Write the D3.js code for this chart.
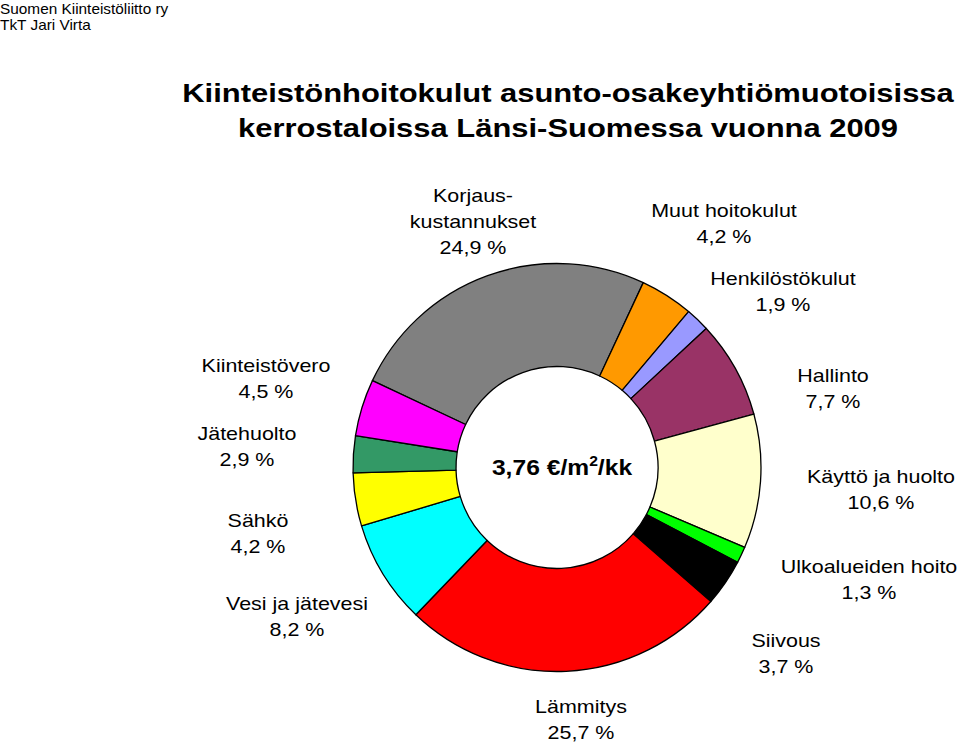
<!DOCTYPE html>
<html>
<head>
<meta charset="utf-8">
<script src="https://cdn.jsdelivr.net/npm/d3@7"></script>
<style>
  html, body { margin: 0; padding: 0; background: #fff; }
  svg { display: block; }
  text { font-family: "Liberation Sans", Arial, Helvetica, sans-serif; fill: #000; }
</style>
</head>
<body>
<svg id="chart" width="960" height="745"></svg>
<script>
// ---- data ----
const categories = ["Korjauskustannukset", "Muut hoitokulut", "Henkilöstökulut", "Hallinto",
  "Käyttö ja huolto", "Ulkoalueiden hoito", "Siivous", "Lämmitys",
  "Vesi ja jätevesi", "Sähkö", "Jätehuolto", "Kiinteistövero"];
const labelNames = [["Korjaus-", "kustannukset"], ["Muut hoitokulut"], ["Henkilöstökulut"], ["Hallinto"],
  ["Käyttö ja huolto"], ["Ulkoalueiden hoito"], ["Siivous"], ["Lämmitys"],
  ["Vesi ja jätevesi"], ["Sähkö"], ["Jätehuolto"], ["Kiinteistövero"]];
const values = [24.9, 4.2, 1.9, 7.7, 10.6, 1.3, 3.7, 25.7, 8.2, 4.2, 2.9, 4.5];
const colors = ["#808080", "#FF9900", "#9999FF", "#993366", "#FFFFCC", "#00FF00",
  "#000000", "#FF0000", "#00FFFF", "#FFFF00", "#339966", "#FF00FF"];
const titleLines = ["Kiinteistönhoitokulut asunto-osakeyhtiömuotoisissa", "kerrostaloissa Länsi-Suomessa vuonna 2009"];
const headerLines = ["Suomen Kiinteistöliitto ry", "TkT Jari Virta"];
const centerValue = "3,76";
const centerUnit = ["€/m", "2", "/kk"];

// ---- layout (not data) ----
const labelLayout = [
  {x: 473, y: 201.5}, {x: 724, y: 216.5}, {x: 783, y: 285}, {x: 833, y: 382},
  {x: 881, y: 483}, {x: 869, y: 572.5}, {x: 786, y: 646.5}, {x: 581, y: 712.5},
  {x: 297, y: 610}, {x: 258, y: 526.5}, {x: 247, y: 440}, {x: 266, y: 371.5}
];
const cx = 557, cy = 467.5, rOuter = 204, rInner = 101;
const startDeg = -64.8;
const lineH = 26;
const sx = 1.13;

const svg = d3.select("#chart");

// header
svg.selectAll("text.header").data(headerLines).join("text")
  .attr("class", "header")
  .attr("transform", (d, i) => `translate(0,${14 + i * 15.5}) scale(1.06,1)`)
  .attr("font-size", 14.5)
  .text(d => d);

// title
svg.selectAll("text.title").data(titleLines).join("text")
  .attr("class", "title")
  .attr("transform", (d, i) => `translate(568,${101.5 + i * 35}) scale(1.19,1)`)
  .attr("text-anchor", "middle")
  .attr("font-size", 26)
  .attr("font-weight", "bold")
  .text(d => d);

// donut
const pie = d3.pie().sort(null).value(d => d)
  .startAngle(startDeg * Math.PI / 180)
  .endAngle(startDeg * Math.PI / 180 + 2 * Math.PI);
const arc = d3.arc().innerRadius(rInner).outerRadius(rOuter);
const g = svg.append("g").attr("transform", `translate(${cx},${cy})`);
g.selectAll("path").data(pie(values)).join("path")
  .attr("d", arc)
  .attr("fill", (d, i) => colors[i])
  .attr("stroke", "#000")
  .attr("stroke-width", 1.3)
  .attr("stroke-linejoin", "round");

// center text
const ct = svg.append("text")
  .attr("transform", `translate(${cx + 5},475) scale(1.12,1)`)
  .attr("text-anchor", "middle")
  .attr("font-size", 22)
  .attr("font-weight", "bold");
ct.append("tspan").text(centerValue + " " + centerUnit[0]);
ct.append("tspan").attr("font-size", 14).attr("dy", -9).text(centerUnit[1]);
ct.append("tspan").attr("dy", 9).text(centerUnit[2]);

// labels
const fmt = v => d3.format(".1f")(v).replace(".", ",") + " %";
const lbl = svg.selectAll("g.lbl").data(categories).join("g").attr("class", "lbl");
lbl.each(function(d, i) {
  const lines = labelNames[i].concat([fmt(values[i])]);
  const p = labelLayout[i];
  d3.select(this).selectAll("text").data(lines).join("text")
    .attr("transform", (t, j) => `translate(${p.x},${p.y + j * lineH}) scale(${sx},1)`)
    .attr("text-anchor", "middle")
    .attr("font-size", 19)
    .text(t => t);
});
</script>
</body>
</html>
